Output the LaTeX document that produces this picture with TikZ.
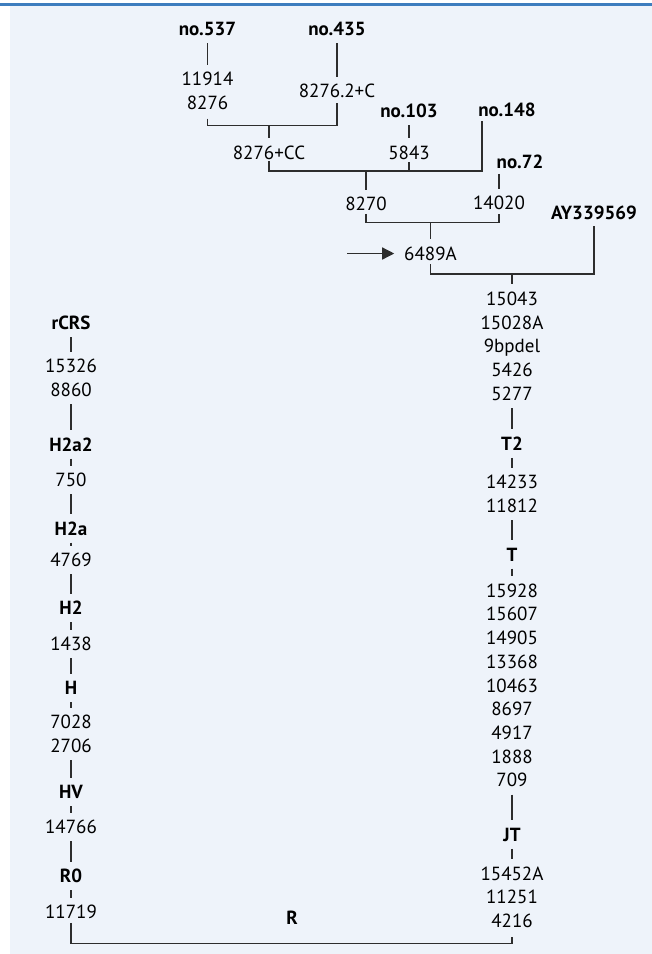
\documentclass[tikz,border=0pt]{standalone}
\usepackage{fontspec}
\setmainfont{PT Sans}
\usetikzlibrary{positioning,arrows.meta,calc}
\definecolor{panelbg}{RGB}{238,243,250}
\definecolor{panelrule}{RGB}{61,125,190}
\definecolor{treeline}{RGB}{45,45,45}
\begin{document}
\begin{tikzpicture}[x=1pt,y=-1pt,
    every node/.style={inner sep=0pt,outer sep=0pt,align=center,font=\fontsize{19}{23.7}\selectfont},
    hap/.style={font=\fontsize{19}{23.7}\selectfont\bfseries},
    link/.style={draw=treeline,line width=1.3pt,shorten <=7.5pt,shorten >=7.5pt},
    tree/.style={draw=treeline,line width=1.3pt},
    drop/.style={tree,shorten >=7.5pt},
  ]
  \useasboundingbox (0,0) rectangle (652,954);
  \fill[panelbg] (10,6) rectangle (652,954);
  \draw[panelrule,line width=3pt] (0,4.5) -- (652,4.5);

  % samples at the top
  \node[hap] (n537) at (207.5,29) {no.537};
  \node (t537) at (207.5,91) {11914\\8276};
  \node[hap] (n435) at (337,29) {no.435};
  \node (t435) at (337,91) {8276.2+C};
  \node (tcc) at (269,152.5) {8276+CC};
  \node[hap] (n103) at (409,111) {no.103};
  \node (t5843) at (409,152.5) {5843};
  \node[hap] (n148) at (507,110) {no.148};
  \node (t8270) at (366,204) {8270};
  \node[hap] (n72) at (520,162) {no.72};
  \node (t14020) at (499,203) {14020};
  \node (t6489) at (430.5,253.5) {6489A};
  \node[hap] (ay) at (594,212.5) {AY339569};

  \coordinate (j1) at (269,125.7);
  \coordinate (c148) at (482,171);
  \coordinate (j2) at (366,171);
  \coordinate (j3) at (430.5,222.7);
  \coordinate (j4) at (512,274);
  \coordinate (arr) at (347,253.5);

  \draw[link] (n537) -- (t537);
  \draw[link] (n435) -- (t435);
  \draw[tree,shorten <=9pt,shorten >=5pt] (t537.south) |- (j1) -| (t435.south);
  \draw[drop] (j1) -- (tcc);
  \draw[link] (n103) -- (t5843);
  \draw[tree,shorten <=2pt,shorten >=4pt] (tcc.south) |- (c148) -- (c148 |- n148.south);
  \draw[tree,shorten <=3pt] (t5843.south) -- (t5843.south |- c148);
  \draw[drop] (j2) -- (t8270);
  \draw[link,shorten <=5pt] (n72.south -| t14020) -- (t14020);
  \draw[tree,shorten <=3pt,shorten >=4pt] (t8270.south) |- (j3) -| (t14020.south);
  \draw[drop] (j3) -- (t6489);
  \draw[tree,-{Triangle[length=12pt,width=12pt]},shorten >=10pt] (arr) -- (t6489.west);
  \draw[tree,shorten <=4pt,shorten >=7pt] (t6489.south) |- (j4) -| (ay.south);

  % right branch
  \node (r1) at (512,346.25) {15043\\15028A\\9bpdel\\5426\\5277};
  \node[hap] (t2) at (512,443.7) {T2};
  \node (r2) at (512,493.85) {14233\\11812};
  \node[hap] (ht) at (512,554.5) {T};
  \node (r3) at (512,685.35) {15928\\15607\\14905\\13368\\10463\\8697\\4917\\1888\\709};
  \node[hap] (jt) at (512,834.5) {JT};
  \node (r4) at (512,897.05) {15452A\\11251\\4216};
  \draw[drop] (j4) -- (r1);
  \foreach \a/\b in {r1/t2,t2/r2,r2/ht,ht/r3,r3/jt,jt/r4}
    \draw[link] (\a) -- (\b);

  % left branch
  \node[hap] (rcrs) at (71,323) {rCRS};
  \node (l1) at (71,378) {15326\\8860};
  \node[hap] (h2a2) at (71,444.3) {H2a2};
  \node (l2) at (71,480) {750};
  \node[hap] (h2a) at (71,528.3) {H2a};
  \node (l3) at (71,560) {4769};
  \node[hap] (h2) at (71,608) {H2};
  \node (l4) at (71,644) {1438};
  \node[hap] (hh) at (71,688.3) {H};
  \node (l5) at (71,734) {7028\\2706};
  \node[hap] (hv) at (71,792) {HV};
  \node (l6) at (71,827) {14766};
  \node[hap] (r0) at (71,876) {R0};
  \node (l7) at (71,912) {11719};
  \foreach \a/\b in {rcrs/l1,l1/h2a2,h2a2/l2,l2/h2a,h2a/l3,l3/h2,h2/l4,l4/hh,hh/l5,l5/hv,hv/l6,l6/r0,r0/l7}
    \draw[link] (\a) -- (\b);

  % root
  \node[hap] (rr) at (292,917.5) {R};
  \coordinate (root) at (292,943.3);
  \draw[tree,shorten <=4pt,shorten >=9pt] (l7.south) |- (root) -| (r4.south);
\end{tikzpicture}
\end{document}
